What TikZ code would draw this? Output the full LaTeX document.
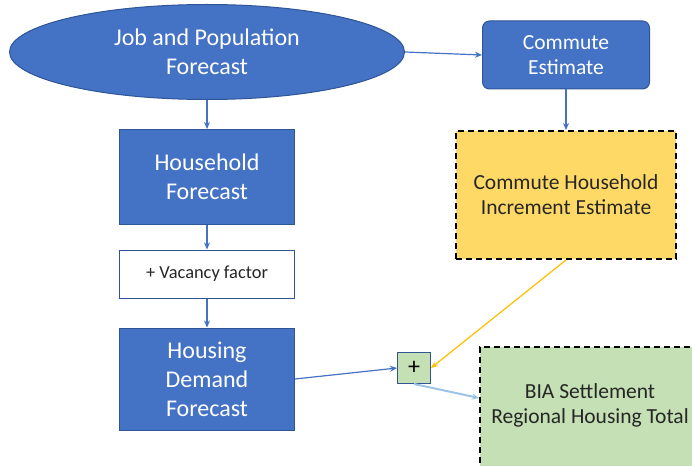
\documentclass[tikz,border=0pt]{standalone}
\usepackage{fontspec}
\setmainfont{Carlito}
\usetikzlibrary{shapes.geometric,arrows.meta}
\definecolor{bfill}{HTML}{4472C4}
\definecolor{bline}{HTML}{2F5597}
\definecolor{yfill}{HTML}{FFD966}
\definecolor{gfill}{HTML}{C5E0B4}
\definecolor{garrow}{HTML}{FFC000}
\definecolor{larrow}{HTML}{9DC3E6}
\tikzset{
  bluebox/.style={draw=bline, fill=bfill, text=white, line width=1pt, align=center,
    font=\fontsize{24}{29}\selectfont, inner sep=0pt},
  dashbox/.style={draw=black, dashed, dash pattern=on 6pt off 4pt, line width=2pt, align=center,
    font=\fontsize{21.5}{25}\selectfont, text=black!85, inner sep=0pt},
  conn/.style={-{Stealth[length=7pt,width=6pt]}, line width=1.2pt, draw=bfill},
}
\begin{document}
\begin{tikzpicture}[x=1pt,y=-1pt]
\useasboundingbox (0,0) rectangle (692,465);
\begin{scope}
\clip (0,0) rectangle (692,465);
\node[bluebox, ellipse, minimum width=395pt, minimum height=95pt] (jp) at (207,52) {Job and Population\\Forecast};
\node[bluebox, rounded corners=7pt, minimum width=167pt, minimum height=68pt, font=\fontsize{21.5}{25}\selectfont] (ce) at (566,55) {Commute\\Estimate};
\node[bluebox, minimum width=175pt, minimum height=95pt] (hf) at (207,177) {Household\\Forecast};
\node[draw=bline, fill=white, line width=1pt, minimum width=175pt, minimum height=48pt, font=\fontsize{18.4}{22}\selectfont, text=black!85] (vf) at (207,274) {+ Vacancy factor};
\node[bluebox, minimum width=175pt, minimum height=102pt] (hd) at (207,379) {Housing\\Demand\\Forecast};
\node[dashbox, fill=yfill, minimum width=220pt, minimum height=128pt] (chie) at (566,195) {Commute Household\\Increment Estimate};
\node[draw=bline, fill=gfill, line width=1pt, minimum width=33pt, minimum height=31pt, font=\fontsize{24}{26}\selectfont, inner sep=0pt] (plus) at (414,368) {+};
\node[dashbox, fill=gfill, minimum width=228pt, minimum height=124pt, anchor=north west] (bia) at (479,346) {};
\node[font=\fontsize{21.5}{25}\selectfont, align=center, text=black!85] (biat) at (590,405) {BIA Settlement\\Regional Housing Total};
\end{scope}
\draw[conn] (jp.east) -- (ce.west);
\draw[conn] (jp.south) -- (hf.north);
\draw[conn] (hf.south) -- (vf.north);
\draw[conn] (vf.south) -- (hd.north);
\draw[conn] (ce.south) -- (chie.north);
\draw[conn] (hd.east) -- (plus.west);
\draw[conn, draw=garrow] (chie.south) -- (plus.east);
\draw[conn, draw=larrow, line width=2pt] (plus.south) -- (bia.west |- 0,398);
\end{tikzpicture}
\end{document}
